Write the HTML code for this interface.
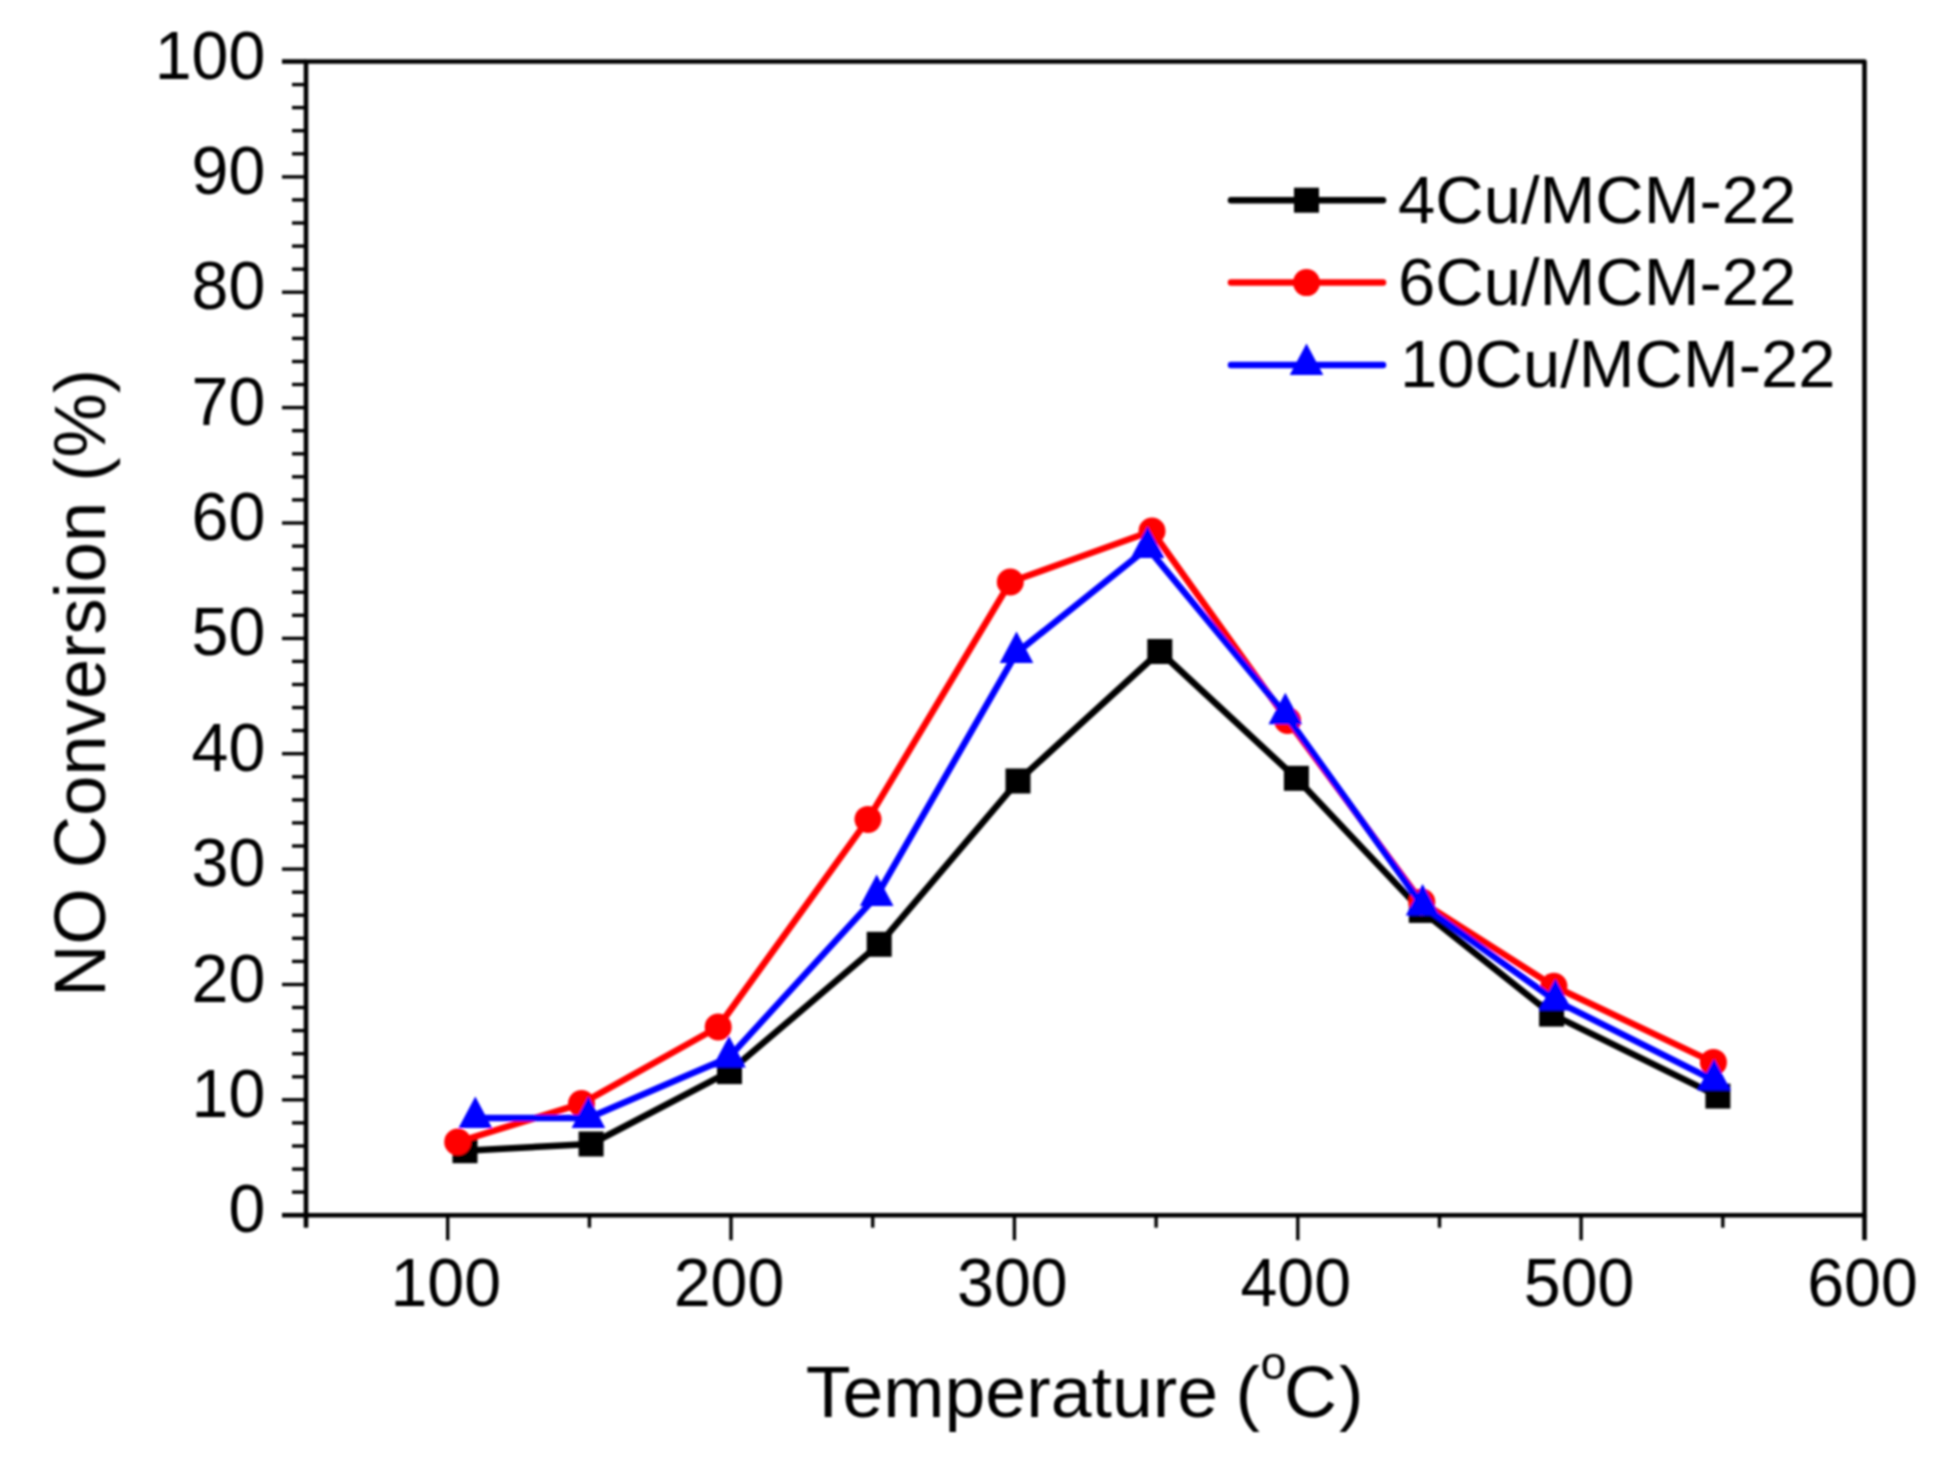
<!DOCTYPE html>
<html lang="en"><head><meta charset="utf-8"><title>NO Conversion vs Temperature</title>
<style>
html,body{margin:0;padding:0;background:#fff;}
body{width:1945px;height:1463px;overflow:hidden;}
svg{display:block;}
text{font-family:"Liberation Sans", sans-serif;fill:#000;}
.tick{font-size:68px;}
.ttl{font-size:72px;}
.leg{font-size:67px;}
</style></head><body>
<svg width="1945" height="1463" viewBox="0 0 1945 1463">
<rect width="1945" height="1463" fill="#fff"/>
<defs><filter id="soft" x="-2%" y="-2%" width="104%" height="104%"><feGaussianBlur stdDeviation="1.15"/></filter></defs>
<g id="chart" filter="url(#soft)">
<g stroke="#000" fill="none" stroke-linecap="butt">
<rect x="306.0" y="61.5" width="1558.5" height="1153.7" stroke-width="4.6" stroke-linejoin="round"/>
<line x1="282.0" y1="1215.2" x2="306.0" y2="1215.2" stroke-width="4.6"/>
<line x1="292.0" y1="1192.1" x2="306.0" y2="1192.1" stroke-width="3.4"/>
<line x1="292.0" y1="1169.1" x2="306.0" y2="1169.1" stroke-width="3.4"/>
<line x1="292.0" y1="1146.0" x2="306.0" y2="1146.0" stroke-width="3.4"/>
<line x1="292.0" y1="1122.9" x2="306.0" y2="1122.9" stroke-width="3.4"/>
<line x1="282.0" y1="1099.8" x2="306.0" y2="1099.8" stroke-width="3.4"/>
<line x1="292.0" y1="1076.8" x2="306.0" y2="1076.8" stroke-width="3.4"/>
<line x1="292.0" y1="1053.7" x2="306.0" y2="1053.7" stroke-width="3.4"/>
<line x1="292.0" y1="1030.6" x2="306.0" y2="1030.6" stroke-width="3.4"/>
<line x1="292.0" y1="1007.5" x2="306.0" y2="1007.5" stroke-width="3.4"/>
<line x1="282.0" y1="984.5" x2="306.0" y2="984.5" stroke-width="3.4"/>
<line x1="292.0" y1="961.4" x2="306.0" y2="961.4" stroke-width="3.4"/>
<line x1="292.0" y1="938.3" x2="306.0" y2="938.3" stroke-width="3.4"/>
<line x1="292.0" y1="915.2" x2="306.0" y2="915.2" stroke-width="3.4"/>
<line x1="292.0" y1="892.2" x2="306.0" y2="892.2" stroke-width="3.4"/>
<line x1="282.0" y1="869.1" x2="306.0" y2="869.1" stroke-width="3.4"/>
<line x1="292.0" y1="846.0" x2="306.0" y2="846.0" stroke-width="3.4"/>
<line x1="292.0" y1="822.9" x2="306.0" y2="822.9" stroke-width="3.4"/>
<line x1="292.0" y1="799.9" x2="306.0" y2="799.9" stroke-width="3.4"/>
<line x1="292.0" y1="776.8" x2="306.0" y2="776.8" stroke-width="3.4"/>
<line x1="282.0" y1="753.7" x2="306.0" y2="753.7" stroke-width="3.4"/>
<line x1="292.0" y1="730.6" x2="306.0" y2="730.6" stroke-width="3.4"/>
<line x1="292.0" y1="707.6" x2="306.0" y2="707.6" stroke-width="3.4"/>
<line x1="292.0" y1="684.5" x2="306.0" y2="684.5" stroke-width="3.4"/>
<line x1="292.0" y1="661.4" x2="306.0" y2="661.4" stroke-width="3.4"/>
<line x1="282.0" y1="638.4" x2="306.0" y2="638.4" stroke-width="3.4"/>
<line x1="292.0" y1="615.3" x2="306.0" y2="615.3" stroke-width="3.4"/>
<line x1="292.0" y1="592.2" x2="306.0" y2="592.2" stroke-width="3.4"/>
<line x1="292.0" y1="569.1" x2="306.0" y2="569.1" stroke-width="3.4"/>
<line x1="292.0" y1="546.1" x2="306.0" y2="546.1" stroke-width="3.4"/>
<line x1="282.0" y1="523.0" x2="306.0" y2="523.0" stroke-width="3.4"/>
<line x1="292.0" y1="499.9" x2="306.0" y2="499.9" stroke-width="3.4"/>
<line x1="292.0" y1="476.8" x2="306.0" y2="476.8" stroke-width="3.4"/>
<line x1="292.0" y1="453.8" x2="306.0" y2="453.8" stroke-width="3.4"/>
<line x1="292.0" y1="430.7" x2="306.0" y2="430.7" stroke-width="3.4"/>
<line x1="282.0" y1="407.6" x2="306.0" y2="407.6" stroke-width="3.4"/>
<line x1="292.0" y1="384.5" x2="306.0" y2="384.5" stroke-width="3.4"/>
<line x1="292.0" y1="361.5" x2="306.0" y2="361.5" stroke-width="3.4"/>
<line x1="292.0" y1="338.4" x2="306.0" y2="338.4" stroke-width="3.4"/>
<line x1="292.0" y1="315.3" x2="306.0" y2="315.3" stroke-width="3.4"/>
<line x1="282.0" y1="292.2" x2="306.0" y2="292.2" stroke-width="3.4"/>
<line x1="292.0" y1="269.2" x2="306.0" y2="269.2" stroke-width="3.4"/>
<line x1="292.0" y1="246.1" x2="306.0" y2="246.1" stroke-width="3.4"/>
<line x1="292.0" y1="223.0" x2="306.0" y2="223.0" stroke-width="3.4"/>
<line x1="292.0" y1="199.9" x2="306.0" y2="199.9" stroke-width="3.4"/>
<line x1="282.0" y1="176.9" x2="306.0" y2="176.9" stroke-width="3.4"/>
<line x1="292.0" y1="153.8" x2="306.0" y2="153.8" stroke-width="3.4"/>
<line x1="292.0" y1="130.7" x2="306.0" y2="130.7" stroke-width="3.4"/>
<line x1="292.0" y1="107.6" x2="306.0" y2="107.6" stroke-width="3.4"/>
<line x1="292.0" y1="84.6" x2="306.0" y2="84.6" stroke-width="3.4"/>
<line x1="282.0" y1="61.5" x2="306.0" y2="61.5" stroke-width="4.6"/>
<line x1="306.0" y1="1215.2" x2="306.0" y2="1227.7" stroke-width="4.6"/>
<line x1="447.7" y1="1215.2" x2="447.7" y2="1240.2" stroke-width="3.4"/>
<line x1="589.4" y1="1215.2" x2="589.4" y2="1227.7" stroke-width="3.4"/>
<line x1="731.0" y1="1215.2" x2="731.0" y2="1240.2" stroke-width="3.4"/>
<line x1="872.7" y1="1215.2" x2="872.7" y2="1227.7" stroke-width="3.4"/>
<line x1="1014.4" y1="1215.2" x2="1014.4" y2="1240.2" stroke-width="3.4"/>
<line x1="1156.1" y1="1215.2" x2="1156.1" y2="1227.7" stroke-width="3.4"/>
<line x1="1297.8" y1="1215.2" x2="1297.8" y2="1240.2" stroke-width="3.4"/>
<line x1="1439.5" y1="1215.2" x2="1439.5" y2="1227.7" stroke-width="3.4"/>
<line x1="1581.1" y1="1215.2" x2="1581.1" y2="1240.2" stroke-width="3.4"/>
<line x1="1722.8" y1="1215.2" x2="1722.8" y2="1227.7" stroke-width="3.4"/>
<line x1="1864.5" y1="1215.2" x2="1864.5" y2="1240.2" stroke-width="4.6"/>
</g>
<text class="tick" transform="translate(265.3 1232.2) scale(0.975 1)" text-anchor="end">0</text>
<text class="tick" transform="translate(265.3 1116.8) scale(0.975 1)" text-anchor="end">10</text>
<text class="tick" transform="translate(265.3 1001.5) scale(0.975 1)" text-anchor="end">20</text>
<text class="tick" transform="translate(265.3 886.1) scale(0.975 1)" text-anchor="end">30</text>
<text class="tick" transform="translate(265.3 770.7) scale(0.975 1)" text-anchor="end">40</text>
<text class="tick" transform="translate(265.3 655.4) scale(0.975 1)" text-anchor="end">50</text>
<text class="tick" transform="translate(265.3 540.0) scale(0.975 1)" text-anchor="end">60</text>
<text class="tick" transform="translate(265.3 424.6) scale(0.975 1)" text-anchor="end">70</text>
<text class="tick" transform="translate(265.3 309.2) scale(0.975 1)" text-anchor="end">80</text>
<text class="tick" transform="translate(265.3 193.9) scale(0.975 1)" text-anchor="end">90</text>
<text class="tick" transform="translate(265.3 78.5) scale(0.975 1)" text-anchor="end">100</text>
<text class="tick" transform="translate(445.7 1305.5) scale(0.975 1)" text-anchor="middle">100</text>
<text class="tick" transform="translate(729.0 1305.5) scale(0.975 1)" text-anchor="middle">200</text>
<text class="tick" transform="translate(1012.4 1305.5) scale(0.975 1)" text-anchor="middle">300</text>
<text class="tick" transform="translate(1295.8 1305.5) scale(0.975 1)" text-anchor="middle">400</text>
<text class="tick" transform="translate(1579.1 1305.5) scale(0.975 1)" text-anchor="middle">500</text>
<text class="tick" transform="translate(1862.5 1305.5) scale(0.975 1)" text-anchor="middle">600</text>
<text class="ttl" transform="translate(805.8 1416.6) scale(1.02 1)">Temperature<tspan dx="-3"> (</tspan><tspan font-size="46" dx="0.7" dy="-38">o</tspan><tspan dx="-2.7" dy="38">C</tspan><tspan dx="1.9">)</tspan></text>
<text class="ttl" transform="translate(105 683) rotate(-90) scale(1.006 1)" text-anchor="middle">NO Conversion (%)</text>
<polyline points="465.0,1150.7 591.1,1144.0 729.5,1071.6 879.2,944.3 1018.0,781.0 1159.8,651.5 1296.4,778.3 1421.3,910.4 1551.6,1014.1 1717.9,1096.1" fill="none" stroke="#000" stroke-width="6.5" stroke-linejoin="round" stroke-linecap="round"/>
<rect x="452.5" y="1138.2" width="25.0" height="25.0" fill="#000"/>
<rect x="578.6" y="1131.5" width="25.0" height="25.0" fill="#000"/>
<rect x="717.0" y="1059.1" width="25.0" height="25.0" fill="#000"/>
<rect x="866.7" y="931.8" width="25.0" height="25.0" fill="#000"/>
<rect x="1005.5" y="768.5" width="25.0" height="25.0" fill="#000"/>
<rect x="1147.3" y="639.0" width="25.0" height="25.0" fill="#000"/>
<rect x="1283.9" y="765.8" width="25.0" height="25.0" fill="#000"/>
<rect x="1408.8" y="897.9" width="25.0" height="25.0" fill="#000"/>
<rect x="1539.1" y="1001.6" width="25.0" height="25.0" fill="#000"/>
<rect x="1705.4" y="1083.6" width="25.0" height="25.0" fill="#000"/>
<polyline points="457.7,1142.0 581.5,1103.6 718.2,1027.0 868.0,819.4 1010.3,582.0 1152.0,531.0 1287.6,720.5 1421.8,902.0 1553.9,986.2 1713.4,1062.4" fill="none" stroke="#f00" stroke-width="6.5" stroke-linejoin="round" stroke-linecap="round"/>
<circle cx="457.7" cy="1142.0" r="13.5" fill="#f00"/>
<circle cx="581.5" cy="1103.6" r="13.5" fill="#f00"/>
<circle cx="718.2" cy="1027.0" r="13.5" fill="#f00"/>
<circle cx="868.0" cy="819.4" r="13.5" fill="#f00"/>
<circle cx="1010.3" cy="582.0" r="13.5" fill="#f00"/>
<circle cx="1152.0" cy="531.0" r="13.5" fill="#f00"/>
<circle cx="1287.6" cy="720.5" r="13.5" fill="#f00"/>
<circle cx="1421.8" cy="902.0" r="13.5" fill="#f00"/>
<circle cx="1553.9" cy="986.2" r="13.5" fill="#f00"/>
<circle cx="1713.4" cy="1062.4" r="13.5" fill="#f00"/>
<polyline points="475.3,1117.9 588.4,1117.9 729.0,1057.4 876.7,895.9 1016.5,652.9 1147.6,548.0 1285.3,714.2 1422.6,905.6 1555.4,1000.6 1714.1,1080.5" fill="none" stroke="#00f" stroke-width="6.5" stroke-linejoin="round" stroke-linecap="round"/>
<polygon points="475.3,1096.4 458.5,1127.9 492.1,1127.9" fill="#00f"/>
<polygon points="588.4,1096.4 571.6,1127.9 605.2,1127.9" fill="#00f"/>
<polygon points="729.0,1035.9 712.2,1067.4 745.8,1067.4" fill="#00f"/>
<polygon points="876.7,874.4 859.9,905.9 893.5,905.9" fill="#00f"/>
<polygon points="1016.5,631.4 999.7,662.9 1033.3,662.9" fill="#00f"/>
<polygon points="1147.6,526.5 1130.8,558.0 1164.4,558.0" fill="#00f"/>
<polygon points="1285.3,692.7 1268.5,724.2 1302.1,724.2" fill="#00f"/>
<polygon points="1422.6,884.1 1405.8,915.6 1439.4,915.6" fill="#00f"/>
<polygon points="1555.4,979.1 1538.6,1010.6 1572.2,1010.6" fill="#00f"/>
<polygon points="1714.1,1059.0 1697.3,1090.5 1730.9,1090.5" fill="#00f"/>
<line x1="1231" y1="200.2" x2="1383" y2="200.2" stroke="#000" stroke-width="6.5" stroke-linecap="round"/>
<rect x="1294.0" y="187.7" width="25.0" height="25.0" fill="#000"/>
<text class="leg" x="1398" y="222.6">4Cu/MCM-22</text>
<line x1="1231" y1="282.6" x2="1383" y2="282.6" stroke="#f00" stroke-width="6.5" stroke-linecap="round"/>
<circle cx="1306.5" cy="282.6" r="13.5" fill="#f00"/>
<text class="leg" x="1398" y="305.0">6Cu/MCM-22</text>
<line x1="1231" y1="365.0" x2="1383" y2="365.0" stroke="#00f" stroke-width="6.5" stroke-linecap="round"/>
<polygon points="1306.5,343.5 1289.7,375.0 1323.3,375.0" fill="#00f"/>
<text class="leg" x="1400" y="387.4">10Cu/MCM-22</text>
</g></svg></body></html>
